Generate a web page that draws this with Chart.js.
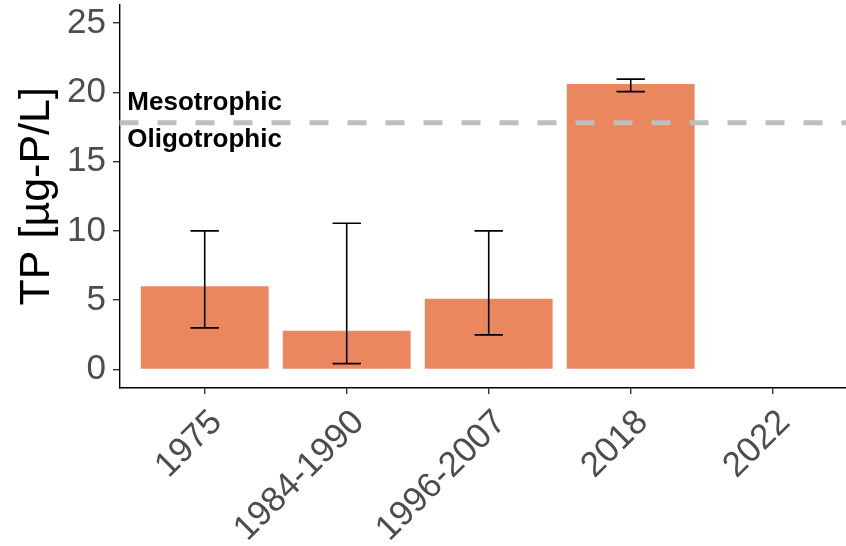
<!DOCTYPE html>
<html>
<head>
<meta charset="utf-8">
<script src="https://cdn.jsdelivr.net/npm/chart.js@4.4.1/dist/chart.umd.min.js"></script>
<style>
  html, body { margin: 0; padding: 0; background: #ffffff; overflow: hidden; }
  #wrap { width: 846px; height: 546px; }
</style>
</head>
<body>
<div id="wrap"><canvas id="chart" width="846" height="546"></canvas></div>
<script>
// Total phosphorus by sampling period
const periods = ['1975', '1984-1990', '1996-2007', '2018', '2022'];
const tpMean  = [6.0, 2.8, 5.1, 20.6, null];
const tpLow   = [3.0, 0.42, 2.5, 20.05, null];
const tpHigh  = [10.0, 10.55, 10.0, 20.95, null];
const yTicks  = [0, 5, 10, 15, 20, 25];

// Trophic state boundary (µg-P/L)
const mesoBoundary = 17.8;

const FONT = '"Liberation Sans", Arial, Helvetica, sans-serif';

const points = periods.map((p, i) => ({ x: i, y: tpMean[i] }));

// Error bars with end caps
const errorBarPlugin = {
  id: 'errorBars',
  afterDatasetsDraw(chart) {
    const { ctx, scales: { x, y } } = chart;
    ctx.save();
    ctx.strokeStyle = '#000000';
    ctx.lineWidth = 1.6;
    periods.forEach((p, i) => {
      if (tpLow[i] == null || tpHigh[i] == null) return;
      const cx = x.getPixelForValue(i);
      const x0 = x.getPixelForValue(i - 0.1);
      const x1 = x.getPixelForValue(i + 0.1);
      const yl = y.getPixelForValue(tpLow[i]);
      const yh = y.getPixelForValue(tpHigh[i]);
      ctx.beginPath();
      ctx.moveTo(cx, yl); ctx.lineTo(cx, yh);
      ctx.moveTo(x0, yl); ctx.lineTo(x1, yl);
      ctx.moveTo(x0, yh); ctx.lineTo(x1, yh);
      ctx.stroke();
    });
    ctx.restore();
  }
};

// Dashed boundary line with the two trophic state labels
const trophicPlugin = {
  id: 'trophic',
  afterDatasetsDraw(chart, args, opts) {
    const { ctx, chartArea, scales: { x, y } } = chart;
    const yPix = y.getPixelForValue(opts.value);
    ctx.save();
    ctx.strokeStyle = '#BEBEBE';
    ctx.lineWidth = 5;
    ctx.setLineDash([19, 19]);
    ctx.beginPath();
    ctx.moveTo(chartArea.left, yPix);
    ctx.lineTo(chartArea.right, yPix);
    ctx.stroke();
    ctx.setLineDash([]);
    ctx.fillStyle = '#000000';
    ctx.font = 'bold 26px ' + FONT;
    ctx.textAlign = 'left';
    ctx.textBaseline = 'alphabetic';
    opts.labels.forEach(l => {
      ctx.fillText(l.text, x.getPixelForValue(l.x), y.getPixelForValue(l.y));
    });
    ctx.restore();
  }
};

new Chart(document.getElementById('chart'), {
  type: 'bar',
  data: {
    datasets: [{
      data: points,
      backgroundColor: '#EA875F',
      borderWidth: 0,
      barPercentage: 0.9,
      categoryPercentage: 1.0
    }]
  },
  options: {
    responsive: false,
    devicePixelRatio: 1,
    animation: false,
    layout: { padding: { top: 5, right: 0, bottom: 0, left: 0 } },
    plugins: {
      legend: { display: false },
      tooltip: { enabled: false },
      trophic: {
        value: mesoBoundary,
        labels: [
          { text: 'Mesotrophic', x: -0.545, y: 18.72 },
          { text: 'Oligotrophic', x: -0.545, y: 16.05 }
        ]
      }
    },
    scales: {
      x: {
        type: 'linear',
        offset: false,
        min: -0.6,
        max: 4.516,
        afterBuildTicks(scale) {
          scale.ticks = periods.map((p, i) => ({ value: i }));
        },
        afterFit(scale) {
          scale.height = 158.5;
          scale.paddingLeft = 0;
          scale.paddingRight = 0;
        },
        grid: {
          offset: false,
          drawOnChartArea: false,
          drawTicks: true,
          tickLength: 6.5,
          tickColor: '#333333',
          lineWidth: 1.4
        },
        border: { display: true, color: '#000000', width: 1.4 },
        ticks: {
          autoSkip: false,
          minRotation: 45,
          maxRotation: 45,
          padding: 8,
          labelOffset: 12,
          color: '#4D4D4D',
          font: { family: FONT, size: 35 },
          callback: (v) => periods[v]
        }
      },
      y: {
        type: 'linear',
        min: -1.3,
        max: 26.3,
        afterBuildTicks(scale) {
          scale.ticks = yTicks.map(v => ({ value: v }));
        },
        afterFit(scale) {
          scale.width = 119.5;
          scale.paddingTop = 0;
          scale.paddingBottom = 0;
        },
        grid: {
          drawOnChartArea: false,
          drawTicks: true,
          tickLength: 6.5,
          tickColor: '#333333',
          lineWidth: 1.4
        },
        border: { display: true, color: '#000000', width: 1.4 },
        ticks: {
          padding: 7,
          color: '#4D4D4D',
          font: { family: FONT, size: 35 }
        },
        title: {
          display: true,
          text: 'TP [µg-P/L]',
          color: '#000000',
          font: { family: FONT, size: 43 },
          padding: { top: 11, bottom: 0 }
        }
      }
    }
  },
  plugins: [errorBarPlugin, trophicPlugin]
});
</script>
</body>
</html>
